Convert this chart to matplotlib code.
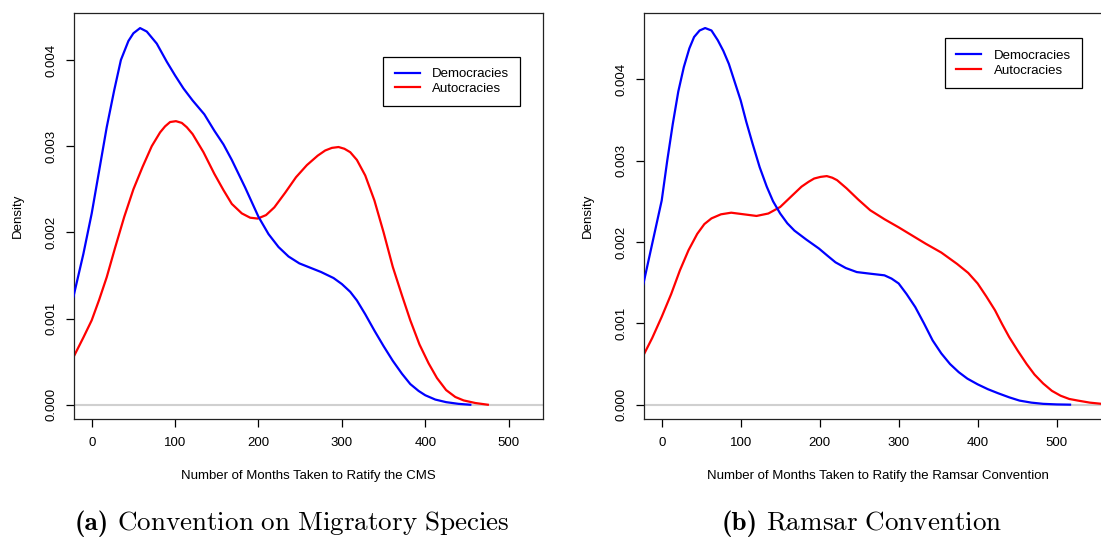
#!/usr/bin/env python3
import matplotlib
matplotlib.use("Agg")
import matplotlib.pyplot as plt

# density curves (x in months, y density x 1000)
cms_dem_x = [-22, -10, 0, 9, 18, 27, 35, 44, 50, 58, 66, 78, 90, 100, 110, 121, 135, 147,
             158, 168, 184, 200, 212, 224, 236, 249, 262, 275, 290, 300, 310, 318, 328,
             339, 350, 361, 372, 382, 392, 400, 412, 425, 440, 454]
cms_dem_y = [1.25, 1.75, 2.22, 2.72, 3.22, 3.65, 4.0, 4.22, 4.31, 4.37, 4.33, 4.19, 3.98,
             3.82, 3.67, 3.53, 3.37, 3.18, 3.02, 2.84, 2.52, 2.18, 1.98, 1.83, 1.72, 1.64,
             1.59, 1.54, 1.47, 1.40, 1.31, 1.21, 1.05, 0.86, 0.68, 0.51, 0.36, 0.24, 0.16,
             0.11, 0.06, 0.03, 0.01, 0.0]

cms_aut_x = [-22, -10, 0, 9, 18, 28, 39, 50, 61, 72, 82, 88, 94, 101, 108, 114, 121, 134,
             147, 158, 168, 180, 190, 199, 209, 219, 232, 245, 258, 271, 280, 288, 296,
             303, 310, 318, 328, 339, 350, 361, 372, 382, 393, 404, 414, 425, 436, 446,
             460, 475]
cms_aut_y = [0.55, 0.78, 0.98, 1.22, 1.48, 1.82, 2.18, 2.50, 2.76, 3.0, 3.16, 3.23, 3.28,
             3.29, 3.27, 3.22, 3.14, 2.93, 2.68, 2.49, 2.33, 2.22, 2.17, 2.16, 2.2, 2.29,
             2.46, 2.64, 2.78, 2.89, 2.95, 2.98, 2.99, 2.97, 2.93, 2.84, 2.66, 2.37, 2.0,
             1.60, 1.27, 0.98, 0.70, 0.48, 0.31, 0.17, 0.09, 0.05, 0.02, 0.0]

ram_dem_x = [-24, -12, 0, 7, 14, 21, 28, 35, 41, 48, 55, 63, 71, 78, 85, 92, 100, 107,
             115, 124, 133, 141, 150, 159, 168, 183, 199, 210, 220, 233, 247, 264, 282,
             291, 300, 310, 321, 332, 343, 354, 365, 376, 387, 400, 413, 426, 440, 453,
             468, 483, 500, 517]
ram_dem_y = [1.45, 1.98, 2.51, 3.0, 3.45, 3.85, 4.15, 4.38, 4.52, 4.6, 4.63, 4.6, 4.48,
             4.35, 4.19, 3.98, 3.74, 3.48, 3.21, 2.92, 2.68, 2.50, 2.35, 2.23, 2.14, 2.03,
             1.92, 1.83, 1.75, 1.68, 1.63, 1.61, 1.59, 1.55, 1.49, 1.36, 1.20, 1.0, 0.79,
             0.63, 0.50, 0.40, 0.32, 0.25, 0.19, 0.14, 0.09, 0.05, 0.025, 0.01, 0.003, 0.0]

ram_aut_x = [-24, -12, 0, 12, 23, 34, 45, 54, 63, 75, 88, 104, 120, 135, 150, 164, 177,
             186, 193, 201, 209, 216, 222, 234, 249, 264, 282, 300, 317, 334, 354, 374,
             388, 400, 411, 422, 431, 440, 451, 462, 472, 483, 494, 505, 516, 527, 542,
             557, 575]
ram_aut_y = [0.59, 0.82, 1.08, 1.36, 1.65, 1.90, 2.10, 2.22, 2.29, 2.34, 2.36, 2.34, 2.32,
             2.35, 2.43, 2.56, 2.68, 2.74, 2.78, 2.80, 2.81, 2.79, 2.76, 2.66, 2.52, 2.39,
             2.28, 2.18, 2.08, 1.98, 1.87, 1.73, 1.62, 1.49, 1.33, 1.16, 0.99, 0.83, 0.66,
             0.50, 0.37, 0.26, 0.17, 0.11, 0.07, 0.05, 0.025, 0.01, 0.003]

panels = [
    dict(dem=(cms_dem_x, cms_dem_y), aut=(cms_aut_x, cms_aut_y),
         xlim=(-21.6, 540.8), ylim=(-0.000169, 0.004545),
         xlabel="Number of Months Taken to Ratify the CMS",
         tag="(a)", caption=r"$\mathrm{Convention\ on\ Migratory\ Species}$",
         rect=[73.7, 13, 469, 406.3], leg=(383.3, 56.7), cap_x=292),
    dict(dem=(ram_dem_x, ram_dem_y), aut=(ram_aut_x, ram_aut_y),
         xlim=(-22.8, 571.0), ylim=(-0.00018, 0.004815),
         xlabel="Number of Months Taken to Ratify the Ramsar Convention",
         tag="(b)", caption=r"$\mathrm{Ramsar\ Convention}$",
         rect=[643.7, 13, 469, 406.3], leg=(945, 38.3), cap_x=862),
]

W, H = 1101, 537
FS = 9.5          # size of all the R-style text
CAP_FS = 19.5     # size of the LaTeX captions
plt.rcParams['font.family'] = ['Liberation Sans', 'DejaVu Sans']
plt.rcParams['mathtext.fontset'] = 'cm'

fig = plt.figure(figsize=(W / 100, H / 100), dpi=100)
renderer = fig.canvas.get_renderer()

for p in panels:
    # axes rectangle given in pixels from the top-left corner
    l, t, w, h = p['rect']
    ax = fig.add_axes([l / W, 1 - (t + h) / H, w / W, h / H])

    ax.axhline(0, color='#d0d0d0', lw=1.5, zorder=1)
    ax.plot(p['dem'][0], [y / 1000 for y in p['dem'][1]],
            color='#0000ff', lw=1.6, label='Democracies', zorder=3)
    ax.plot(p['aut'][0], [y / 1000 for y in p['aut'][1]],
            color='#ff0000', lw=1.6, label='Autocracies', zorder=2)

    ax.set_xlim(p['xlim'])
    ax.set_ylim(p['ylim'])
    ax.set_xticks([0, 100, 200, 300, 400, 500])
    ax.set_yticks([0, 0.001, 0.002, 0.003, 0.004])
    ax.set_yticklabels(['0.000', '0.001', '0.002', '0.003', '0.004'],
                       rotation=90, va='center')
    ax.tick_params(direction='out', length=5.5, width=0.9, labelsize=FS, color='black')
    ax.tick_params(axis='x', pad=7.5)
    ax.tick_params(axis='y', pad=6.5)
    for s in ax.spines.values():
        s.set_linewidth(0.9)
        s.set_color('#222222')

    ax.set_xlabel(p['xlabel'], fontsize=FS, va='center')
    ax.xaxis.set_label_coords(0.5, -0.1396)
    ax.set_ylabel('Density', fontsize=FS, va='center')
    ax.yaxis.set_label_coords(-0.12, 0.5)

    # legend box placed by its top-left corner
    lx, ly = p['leg']
    leg = ax.legend(loc='upper left', bbox_to_anchor=(lx / W, 1 - ly / H),
                    bbox_transform=fig.transFigure, fontsize=FS, frameon=True,
                    fancybox=False, edgecolor='black', framealpha=1, borderpad=0.85,
                    handlelength=1.9, handletextpad=0.95, labelspacing=0.2,
                    borderaxespad=0)
    leg.get_frame().set_linewidth(0.9)

    # caption: bold tag then regular text, centred together under the panel
    yb = 1 - 530 / H
    t1 = fig.text(0, yb, p['tag'], family='cmb10', fontsize=CAP_FS, va='baseline')
    t2 = fig.text(0, yb, p['caption'], fontsize=CAP_FS, va='baseline')
    w1 = t1.get_window_extent(renderer).width
    w2 = t2.get_window_extent(renderer).width
    gap = 8.5
    x0 = p['cap_x'] - (w1 + gap + w2) / 2
    t1.set_x(x0 / W)
    t2.set_x((x0 + w1 + gap) / W)

fig.savefig('out.png', dpi=100)
